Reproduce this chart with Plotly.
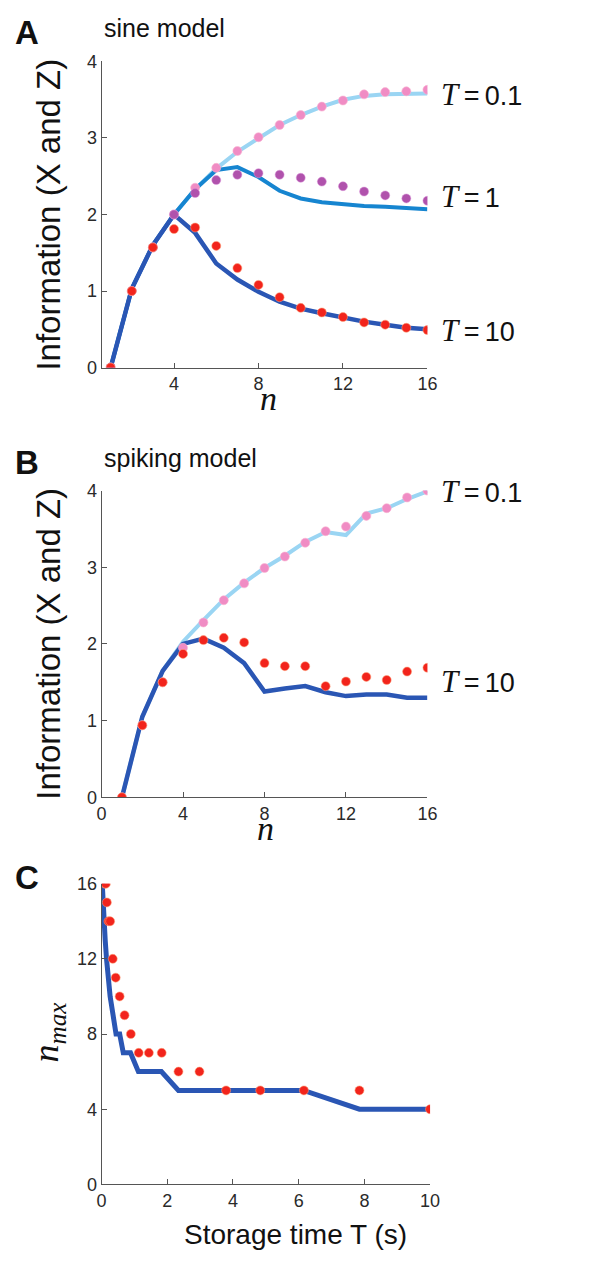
import plotly.graph_objects as go

# ---------------- data ----------------
n_vals = list(range(1, 17))

# Panel A: sine model
a_line_T01 = [0, 1.03, 1.6, 2.0, 2.33, 2.6, 2.82, 3.0, 3.17, 3.3, 3.41, 3.5, 3.55, 3.57, 3.58, 3.58]
a_line_T1 = [0, 1.03, 1.6, 2.0, 2.33, 2.58, 2.62, 2.49, 2.31, 2.21, 2.16, 2.13, 2.11, 2.10, 2.09, 2.07]
a_line_T10 = [0, 1.03, 1.6, 2.0, 1.76, 1.36, 1.15, 0.99, 0.86, 0.77, 0.71, 0.65, 0.60, 0.56, 0.52, 0.50]
a_dots_T01 = [0, 1.0, 1.57, 2.0, 2.35, 2.61, 2.83, 3.01, 3.17, 3.30, 3.41, 3.49, 3.57, 3.60, 3.61, 3.63]
a_dots_T1 = [0, 1.0, 1.57, 2.0, 2.28, 2.45, 2.52, 2.54, 2.52, 2.48, 2.43, 2.37, 2.30, 2.25, 2.21, 2.18]
a_dots_T10 = [0, 1.0, 1.57, 1.81, 1.83, 1.59, 1.30, 1.08, 0.92, 0.78, 0.72, 0.66, 0.59, 0.56, 0.52, 0.49]

# Panel B: spiking model
b_line_T01 = [0, 1.05, 1.65, 2.03, 2.31, 2.58, 2.8, 2.99, 3.15, 3.33, 3.46, 3.42, 3.70, 3.77, 3.89, 3.99]
b_line_T10 = [0, 1.05, 1.65, 2.0, 2.07, 1.95, 1.75, 1.38, 1.42, 1.45, 1.37, 1.32, 1.34, 1.34, 1.30, 1.30]
b_dots_T01 = [0, 0.94, 1.5, 1.95, 2.28, 2.57, 2.79, 2.99, 3.14, 3.32, 3.47, 3.53, 3.67, 3.77, 3.91, 4.0]
b_dots_T10 = [0, 0.94, 1.50, 1.87, 2.05, 2.08, 2.02, 1.75, 1.71, 1.71, 1.45, 1.51, 1.57, 1.53, 1.64, 1.69]

# Panel C: n_max vs storage time
c_dots_T = [0.1, 0.13, 0.16, 0.21, 0.26, 0.34, 0.43, 0.55, 0.7, 0.89, 1.13, 1.44, 1.83, 2.34, 2.98, 3.79, 4.83, 6.16, 7.85, 10]
c_dots_n = [16, 16, 15, 14, 14, 12, 11, 10, 9, 8, 7, 7, 7, 6, 6, 5, 5, 5, 5, 4]
c_line_T = [0.02, 0.04, 0.075, 0.11, 0.15, 0.2, 0.26, 0.35, 0.44, 0.55, 0.66, 0.88, 1.12, 1.82, 2.34, 6.15, 7.85, 10]
c_line_n = [16, 15, 14, 13, 12, 11, 10, 9, 8, 8, 7, 7, 6, 6, 5, 5, 4, 4]

a_xticks = [4, 8, 12, 16]
b_xticks = [0, 4, 8, 12, 16]
ab_yticks = [0, 1, 2, 3, 4]
c_xticks = [0, 2, 4, 6, 8, 10]
c_yticks = [0, 4, 8, 12, 16]

# ---------------- style ----------------
W, H = 615, 1263
LIGHT = "#9ad5f3"
MED = "#1685d0"
DARK = "#2a56b4"
PINK = "#f08cc4"
PURPLE = "#b052ac"
RED = "#f2241c"
SANS = "Liberation Sans, Arial, sans-serif"
SERIF = "Liberation Serif, Times New Roman, serif"


def px(x):
    return x / W


def py(y):
    return 1 - y / H


fig = go.Figure()


def line(x, y, color, width, ax):
    fig.add_trace(go.Scatter(x=x, y=y, mode="lines", line=dict(color=color, width=width),
                             xaxis="x" + ax, yaxis="y" + ax, showlegend=False, hoverinfo="skip"))


def dots(x, y, color, ax, size=9, halo="rgba(255,160,120,0.55)"):
    fig.add_trace(go.Scatter(x=x, y=y, mode="markers",
                             marker=dict(color=color, size=size, line=dict(color=halo, width=1)),
                             xaxis="x" + ax, yaxis="y" + ax, showlegend=False, hoverinfo="skip"))


# Panel A
line(n_vals, a_line_T01, LIGHT, 4, "")
line(n_vals, a_line_T1, MED, 4, "")
line(n_vals, a_line_T10, DARK, 4.5, "")
dots(n_vals, a_dots_T01, PINK, "", halo="rgba(250,180,210,0.6)")
dots(n_vals, a_dots_T1, PURPLE, "", halo="rgba(220,150,220,0.5)")
dots(n_vals, a_dots_T10, RED, "")

# Panel B
line(n_vals, b_line_T01, LIGHT, 4, "2")
line(n_vals, b_line_T10, DARK, 4.5, "2")
dots(n_vals, b_dots_T01, PINK, "2", halo="rgba(250,180,210,0.6)")
dots(n_vals, b_dots_T10, RED, "2")

# Panel C
line(c_line_T, c_line_n, DARK, 5, "3")
dots(c_dots_T, c_dots_n, RED, "3", size=9)

axis_common = dict(showline=True, linecolor="#555", linewidth=1, ticks="inside", ticklen=5,
                   tickcolor="#555", tickwidth=1, showgrid=False, zeroline=False, mirror=False,
                   tickfont=dict(family=SANS, size=18, color="#2a2a2a"), fixedrange=True)

# pixel geometry
A_y = (363.3, 52.3)
B_y = (800.0, 488.3)
C_y = (1193.3, 887.7)

fig.update_layout(
    width=W, height=H, autosize=False,
    margin=dict(l=0, r=0, t=0, b=0),
    paper_bgcolor="white", plot_bgcolor="white",
    xaxis=dict(domain=[px(99), px(433)], range=[0.57, 16], tickvals=a_xticks, anchor="y", **axis_common),
    yaxis=dict(domain=[py(A_y[0]), py(A_y[1])], range=[0, 4], tickvals=ab_yticks, anchor="x", **axis_common),
    xaxis2=dict(domain=[px(99), px(433)], range=[0, 16], tickvals=b_xticks, anchor="y2", **axis_common),
    yaxis2=dict(domain=[py(B_y[0]), py(B_y[1])], range=[0, 4], tickvals=ab_yticks, anchor="x2", **axis_common),
    xaxis3=dict(domain=[px(99), px(435.7)], range=[0, 10], tickvals=c_xticks, anchor="y3", **axis_common),
    yaxis3=dict(domain=[py(C_y[0]), py(C_y[1])], range=[0, 16], tickvals=c_yticks, anchor="x3", **axis_common),
)

ann = []


def text(x, y, s, size, family=SANS, xanchor="center", yanchor="middle", angle=0, color="#111"):
    ann.append(dict(x=px(x), y=py(y), xref="paper", yref="paper", text=s, showarrow=False,
                    xanchor=xanchor, yanchor=yanchor, textangle=angle,
                    font=dict(family=family, size=size, color=color)))


# panel letters and titles
text(23, 23, "<b>A</b>", 33)
text(23, 460, "<b>B</b>", 33)
text(23, 881, "<b>C</b>", 33)
text(99, 18, "sine model", 25, xanchor="left")
text(99, 455, "spiking model", 25, xanchor="left")

# y-axis titles
text(45, 208, "Information (X and Z)", 33, angle=-90)
text(45, 644, "Information (X and Z)", 33, angle=-90)
text(45, 1039, "<i>n</i><sub><i>max</i></sub>", 36, family=SERIF, angle=-90)

# x-axis titles
text(270, 395, "<i>n</i>", 34, family=SERIF)
text(267, 832, "<i>n</i>", 34, family=SERIF)
text(298, 1244, "Storage time T (s)", 28)


def tlabel(y, val):
    return text(445, y, '<span style="font-family:Liberation Serif;font-size:31px"><i>T</i></span>'
                        '\u2009=\u2009' + val, 27, xanchor="left")


tlabel(86, "0.1")
tlabel(190, "1")
tlabel(326, "10")
tlabel(489, "0.1")
tlabel(682, "10")

fig.update_layout(annotations=ann)

fig.write_html("out.html", config={"displayModeBar": False, "staticPlot": True},
               post_script="document.body.style.margin='0';document.body.style.overflow='hidden';")
